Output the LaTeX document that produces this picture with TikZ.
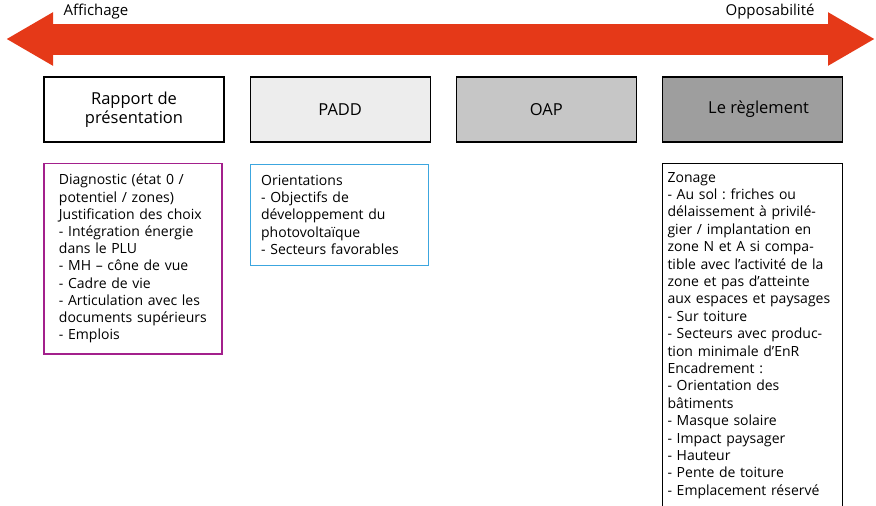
\documentclass[tikz,border=0pt]{standalone}
\usepackage{fontspec}
\setmainfont{Open Sans}
\usepackage{xcolor}
\usetikzlibrary{positioning, arrows.meta}
\frenchspacing

\definecolor{rougeaxe}{RGB}{229,57,24}
\definecolor{grisclair}{RGB}{237,237,237}
\definecolor{grismoyen}{RGB}{198,198,198}
\definecolor{grisfonce}{RGB}{158,158,158}
\definecolor{cadrediag}{RGB}{163,32,140}
\definecolor{cadreorient}{RGB}{60,166,223}

\begin{document}
\begin{tikzpicture}[x=1pt,y=-1pt,node distance=25pt,
    axe/.style={line width=31pt, rougeaxe,
        {Triangle[length=47pt,width=50pt]}-{Triangle[length=47pt,width=50pt]}},
    piece/.style={draw, line width=1.2pt, minimum width=180pt, minimum height=65pt,
        inner sep=0pt, align=center, font=\fontsize{16.5}{19.5}\selectfont},
    contenu/.style={draw, line width=1.1pt, align=left, inner ysep=11pt,
        font=\fontsize{14}{17.2}\selectfont}]
    \useasboundingbox (0,0) rectangle (876,506);

    % axe affichage -> opposabilite
    \coordinate (aff) at (6,39);
    \coordinate (opp) at (875,39);
    \draw[axe] (aff) -- (opp);
    \node[anchor=west, font=\fontsize{15}{17}\selectfont] (affichage) at (60,12) {Affichage};
    \node[anchor=east, font=\fontsize{15}{17}\selectfont] (opposabilite) at (818,12) {Opposabilité};

    % pieces du PLU
    \node[piece] (rapport) at (134,109.5) {Rapport de\\présentation};
    \node[piece, fill=grisclair] (padd) [right=of rapport] {PADD};
    \node[piece, fill=grismoyen] (oap) [right=of padd] {OAP};
    \node[piece, fill=grisfonce] (reglement) [right=of oap] {\hspace*{12pt}Le règlement};

    % contenus
    \node[contenu, draw=cadrediag, text width=148pt, inner xsep=15pt] (diag)
        [below right=20pt and 0pt of rapport.south west]
        {Diagnostic (état 0 /\\potentiel / zones)\\Justification des choix\\- Intégration énergie\\dans le PLU\\- MH – cône de vue\\- Cadre de vie\\- Articulation avec les\\documents supérieurs\\- Emplois};
    \node[contenu, draw=cadreorient, text width=156pt, inner xsep=11pt] (orient)
        [below right=21pt and 0pt of padd.south west]
        {Orientations\\- Objectifs de\\développement du\\photovoltaïque\\- Secteurs favorables};
    \node[contenu, draw=black, text width=170pt, inner xsep=5pt, inner ysep=9pt,
        font=\fontsize{14}{17.4}\selectfont] (zonage)
        [below right=20pt and 0pt of reglement.south west]
        {Zonage\\- Au sol : friches ou\\délaissement à privilé-\\gier / implantation en\\zone N et A si compa-\\tible avec l’activité de la\\zone et pas d’atteinte\\aux espaces et paysages\\- Sur toiture\\- Secteurs avec produc-\\tion minimale d’EnR\\Encadrement :\\- Orientation des\\bâtiments\\- Masque solaire\\- Impact paysager\\- Hauteur\\- Pente de toiture\\- Emplacement réservé\par\vspace*{30pt}};
\end{tikzpicture}
\end{document}
